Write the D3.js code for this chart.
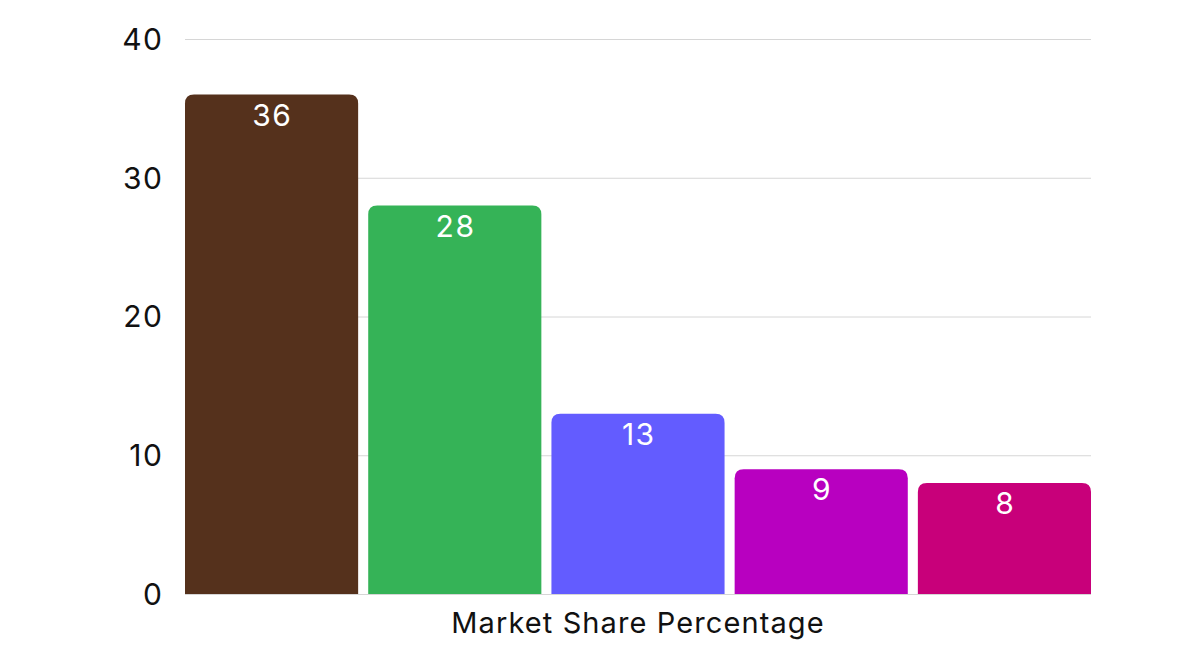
<!DOCTYPE html>
<html>
<head>
<meta charset="utf-8">
<script src="https://cdn.jsdelivr.net/npm/d3@7"></script>
<style>
  body { margin: 0; background: #fff; }
  text { font-family: Inter, "Open Sans", sans-serif; }
</style>
</head>
<body>
<svg id="chart" width="1200" height="664"></svg>
<script>
// data
var categories = ['A', 'B', 'C', 'D', 'E'];
var values = [36, 28, 13, 9, 8];
var colors = ['#55311c', '#35b357', '#635cff', '#b800c0', '#c8007a'];
var yTicks = [0, 10, 20, 30, 40];
var axisTitle = 'Market Share Percentage';

var svg = d3.select('#chart');

var margin = { top: 39, bottom: 70, left: 185, right: 109 };
var width = 1200, height = 664;

var xScale = d3.scaleBand()
  .domain(categories)
  .range([margin.left, width - margin.right])
  .paddingInner(0.055)
  .paddingOuter(0);

var yScale = d3.scaleLinear()
  .domain([0, 40])
  .range([height - margin.bottom, margin.top]);

// gridlines
svg.append('g')
  .selectAll('line')
  .data(yTicks)
  .enter()
  .append('line')
  .attr('x1', margin.left)
  .attr('x2', width - margin.right)
  .attr('y1', function(d) { return yScale(d) + 0.5; })
  .attr('y2', function(d) { return yScale(d) + 0.5; })
  .attr('stroke', '#d6d6d6')
  .attr('stroke-width', 1);

// tick labels (letter-spacing widens digits; trailing space compensated in x)
svg.append('g')
  .selectAll('text')
  .data(yTicks)
  .enter()
  .append('text')
  .attr('x', 163.5)
  .attr('y', function(d) { return yScale(d); })
  .attr('dy', '0.36em')
  .attr('text-anchor', 'end')
  .attr('font-size', 30)
  .attr('letter-spacing', 1.5)
  .attr('fill', '#111')
  .text(function(d) { return d; });

// bars with rounded top corners
var r = 9;
function barPath(d, i) {
  var x0 = xScale(categories[i]), x1 = x0 + xScale.bandwidth();
  var y0 = yScale(d), yb = yScale(0);
  return 'M' + x0 + ',' + yb +
    'V' + (y0 + r) +
    'Q' + x0 + ',' + y0 + ' ' + (x0 + r) + ',' + y0 +
    'H' + (x1 - r) +
    'Q' + x1 + ',' + y0 + ' ' + x1 + ',' + (y0 + r) +
    'V' + yb + 'Z';
}

svg.append('g')
  .selectAll('path')
  .data(values)
  .enter()
  .append('path')
  .attr('d', barPath)
  .attr('fill', function(d, i) { return colors[i]; });

// value labels
svg.append('g')
  .selectAll('text')
  .data(values)
  .enter()
  .append('text')
  .attr('x', function(d, i) { return xScale(categories[i]) + xScale.bandwidth() / 2 + 0.75; })
  .attr('y', function(d) { return yScale(d) + 31; })
  .attr('text-anchor', 'middle')
  .attr('font-size', 30)
  .attr('letter-spacing', 1.5)
  .attr('fill', '#fff')
  .text(function(d) { return d; });

// axis title
svg.append('text')
  .attr('x', (margin.left + width - margin.right) / 2)
  .attr('y', 633)
  .attr('text-anchor', 'middle')
  .attr('font-size', 29)
  .attr('letter-spacing', 1.1)
  .attr('fill', '#111')
  .text(axisTitle);
</script>
</body>
</html>
